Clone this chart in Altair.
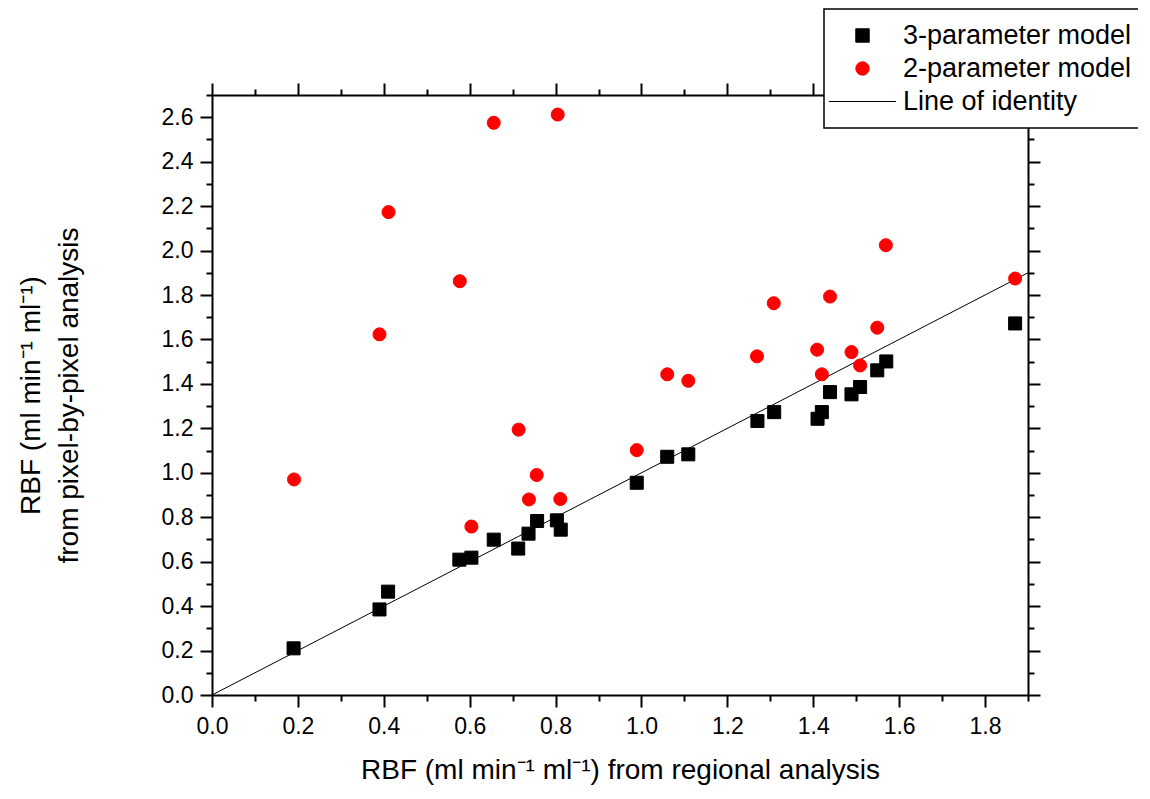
import altair as alt
import pandas as pd

FONT = "Liberation Sans"

# ---- data ----
x_3p = [0.19, 0.39, 0.41, 0.576, 0.604, 0.656, 0.713, 0.737, 0.757, 0.803, 0.812, 0.989,
        1.06, 1.109, 1.27, 1.309, 1.41, 1.42, 1.439, 1.489, 1.509, 1.549, 1.57, 1.87]
y_3p = [0.21, 0.385, 0.465, 0.609, 0.618, 0.699, 0.659, 0.726, 0.783, 0.786, 0.744, 0.955,
        1.072, 1.083, 1.233, 1.273, 1.243, 1.273, 1.363, 1.353, 1.386, 1.461, 1.501, 1.672]
x_2p = [0.191, 0.39, 0.411, 0.577, 0.604, 0.656, 0.714, 0.738, 0.756, 0.805, 0.811, 0.989,
        1.06, 1.109, 1.269, 1.308, 1.409, 1.42, 1.439, 1.489, 1.509, 1.549, 1.569, 1.87]
y_2p = [0.97, 1.623, 2.173, 1.862, 0.758, 2.575, 1.194, 0.88, 0.99, 2.612, 0.882, 1.102,
        1.443, 1.414, 1.524, 1.763, 1.554, 1.443, 1.793, 1.543, 1.483, 1.653, 2.024, 1.874]
identity_x = [0.0, 1.9]
identity_y = [0.0, 1.9]

series_names = ["3-parameter model", "2-parameter model", "Line of identity"]
series_colors = ["#000000", "#ff0000", "#000000"]
series_shapes = ["square", "circle", "M-5,0H5"]

x_major = [0.0, 0.2, 0.4, 0.6, 0.8, 1.0, 1.2, 1.4, 1.6, 1.8]
x_minor = [0.1, 0.3, 0.5, 0.7, 0.9, 1.1, 1.3, 1.5, 1.7, 1.9]
y_major = [0.0, 0.2, 0.4, 0.6, 0.8, 1.0, 1.2, 1.4, 1.6, 1.8, 2.0, 2.2, 2.4, 2.6]
y_minor = [0.1, 0.3, 0.5, 0.7, 0.9, 1.1, 1.3, 1.5, 1.7, 1.9, 2.1, 2.3, 2.5, 2.7]

x_title = "RBF (ml min\u207b\u00b9 ml\u207b\u00b9) from regional analysis"
y_title = ["RBF (ml min\u207b\u00b9 ml\u207b\u00b9)", "from pixel-by-pixel analysis"]

pts = pd.DataFrame({
    "x": x_3p + x_2p,
    "y": y_3p + y_2p,
    "series": [series_names[0]] * len(x_3p) + [series_names[1]] * len(x_2p),
})
line_df = pd.DataFrame({"x": identity_x, "y": identity_y})

xs = alt.Scale(domain=[0, 1.9], nice=False, zero=False)
ys = alt.Scale(domain=[0, 2.7], nice=False, zero=False)

common = dict(grid=False, tickColor="black", tickWidth=2, labelFlush=False,
              labelOverlap=False, labelBound=False)


def major_axis(orient, values, labels, title=None, **kw):
    return alt.Axis(orient=orient, values=values, tickSize=12, domain=True,
                    domainColor="black", domainWidth=2, labels=labels, format=".1f",
                    labelFont=FONT, labelFontSize=23, labelColor="black",
                    title=title, **common, **kw)


def minor_axis(orient, values):
    return alt.Axis(orient=orient, values=values, tickSize=6, domain=False,
                    labels=False, title=None, **common)


ax_bottom = major_axis("bottom", x_major, True, x_title, labelPadding=8,
                       titleFont=FONT, titleFontSize=28, titleFontWeight="normal",
                       titleColor="black", titlePadding=18)
ax_left = major_axis("left", y_major, True, y_title, labelPadding=7,
                     titleFont=FONT, titleFontSize=28, titleFontWeight="normal",
                     titleColor="black", titlePadding=78, titleLineHeight=38)
ax_top = major_axis("top", x_major, False)
ax_right = major_axis("right", y_major, False)

legend = alt.Legend(orient="none", legendX=612, legendY=-86, title=None,
                    labelFont=FONT, labelFontSize=27, labelColor="black", labelLimit=600,
                    symbolSize=180, symbolStrokeWidth=1, symbolOffset=12,
                    labelOffset=27, rowPadding=5, padding=13,
                    strokeColor="black", fillColor="white", cornerRadius=0)

line = alt.Chart(line_df).mark_line(color="black", strokeWidth=1).encode(
    x=alt.X("x:Q", scale=xs, axis=ax_bottom),
    y=alt.Y("y:Q", scale=ys, axis=ax_left),
)

points = alt.Chart(pts).mark_point(filled=True, size=170, opacity=1, strokeWidth=1).encode(
    x=alt.X("x:Q", scale=xs, axis=minor_axis("bottom", x_minor)),
    y=alt.Y("y:Q", scale=ys, axis=minor_axis("left", y_minor)),
    fill=alt.Fill("series:N", scale=alt.Scale(domain=series_names, range=series_colors), legend=legend),
    stroke=alt.Stroke("series:N", scale=alt.Scale(domain=series_names, range=series_colors), legend=legend),
    shape=alt.Shape("series:N", scale=alt.Scale(domain=series_names, range=series_shapes), legend=legend),
)

frame_major = alt.Chart(line_df).mark_line(opacity=0).encode(
    x=alt.X("x:Q", scale=xs, axis=ax_top),
    y=alt.Y("y:Q", scale=ys, axis=ax_right),
)
frame_minor = alt.Chart(line_df).mark_line(opacity=0).encode(
    x=alt.X("x:Q", scale=xs, axis=minor_axis("top", x_minor)),
    y=alt.Y("y:Q", scale=ys, axis=minor_axis("right", y_minor)),
)

chart = alt.layer(line, points, frame_major, frame_minor).resolve_axis(
    x="independent", y="independent"
).properties(
    width=816, height=600, autosize="none",
    padding={"left": 204, "top": 87, "right": 110, "bottom": 91},
).configure_view(stroke=None).configure_legend(strokeWidth=1.5)

chart.save("out.html", embed_options={"renderer": "svg", "actions": False})
